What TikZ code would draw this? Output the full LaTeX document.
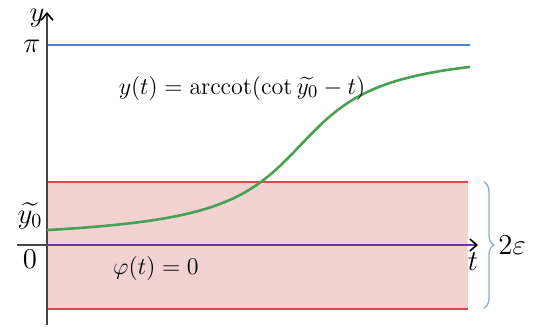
\documentclass[tikz,border=0pt]{standalone}
\usepackage{amsmath}
\usetikzlibrary{decorations.pathreplacing,arrows.meta}
\definecolor{piblue}{RGB}{79,129,201}
\definecolor{bandred}{RGB}{214,76,76}
\definecolor{bandfill}{RGB}{243,210,210}
\definecolor{curvegreen}{RGB}{72,160,82}
\definecolor{axpurple}{RGB}{104,52,170}
\definecolor{bracecol}{RGB}{150,175,205}
\definecolor{axgray}{RGB}{70,70,70}
\begin{document}
\begin{tikzpicture}[x=0.5pt,y=-0.5pt,
  axis/.style={draw=axgray,line width=0.8pt},
  tip/.style={-{Straight Barb[length=3.5pt,width=6pt,line width=0.8pt,color=black]}},
  lbl/.style={inner sep=0pt,font=\fontsize{14.5}{16}\selectfont},
  mlbl/.style={inner sep=0pt,font=\fontsize{12.5}{14}\selectfont}]
\useasboundingbox (0,0) rectangle (544,327);
% band
\fill[bandfill] (47,182) rectangle (468,309);
\draw[bandred,line width=1.2pt] (47,182) -- (468,182);
\draw[bandred,line width=1.2pt] (47,309) -- (468,309);
% pi line
\draw[piblue,line width=1.2pt] (47,45) -- (470,45);
% axes
\draw[axis,tip] (47,325) -- (47,12);
\draw[axis] (17,245) -- (47,245);
\draw[axpurple,line width=1.4pt,tip] (47,245) -- (478,245);
% curve
\draw[curvegreen,line width=1.3pt,domain=0:6.98,samples=80,smooth,variable=\s]
  plot ({47+60.6*\s},{245-(90-atan(4.185-\s))*1.1111});
% labels
\node[lbl] (ylab) at (37,18) {$y$};
\node[lbl] (pilab) at (32,46) {$\pi$};
\node[lbl] (y0lab) at (30,216) {$\widetilde{y_0}$};
\node[lbl] (zero) at (30,259) {$0$};
\node[lbl] (tlab) at (473,262) {$t$};
\node[mlbl] (phi) at (156,268) {$\varphi(t)=0$};
\node[mlbl] (form) at (242,88) {$y(t)=\operatorname{arccot}(\cot\widetilde{y_0}-t)$};
\coordinate (bt) at (484,182);
\coordinate (bb) at (484,308);
\draw[bracecol,line width=0.7pt,decorate,decoration={brace,amplitude=5pt}] (bt) -- (bb);
\node[lbl,anchor=west] (eps) at (498,245) {$2\varepsilon$};
\end{tikzpicture}
\end{document}
